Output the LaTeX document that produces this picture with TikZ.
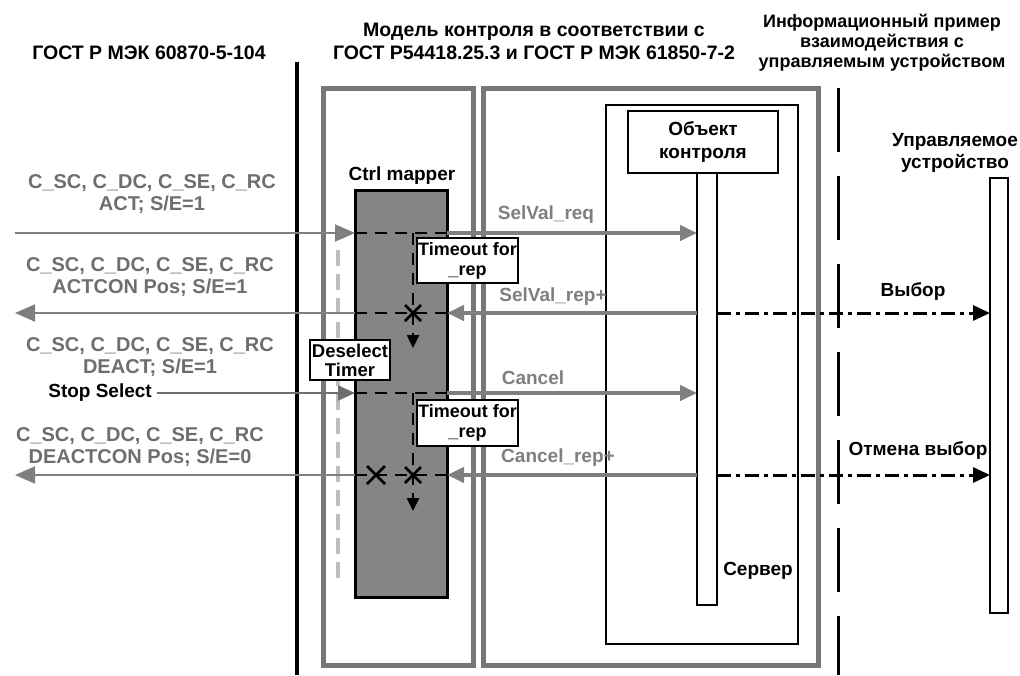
\documentclass[tikz,border=0pt]{standalone}
\usepackage{fontspec}
\setmainfont{Liberation Sans}
\usetikzlibrary{arrows.meta,calc}
\definecolor{garrow}{HTML}{7F7F7F}
\definecolor{gbox}{HTML}{777777}
\definecolor{gtext}{HTML}{6E6E6E}
\definecolor{gfill}{HTML}{858585}
\definecolor{gfaint}{HTML}{BDBDBD}
\begin{document}
\begin{tikzpicture}[x=1pt,y=-1pt,
  title/.style={font=\bfseries\fontsize{19.5}{23}\selectfont, align=center, inner sep=0pt},
  rtitle/.style={font=\bfseries\fontsize{18}{20}\selectfont, align=center, inner sep=0pt},
  glabel/.style={font=\bfseries\fontsize{20}{21.5}\selectfont, text=gtext, align=center, inner sep=0pt},
  alabel/.style={font=\bfseries\fontsize{19}{21}\selectfont, text=garrow, inner sep=0pt},
  blabel/.style={font=\bfseries\fontsize{19}{22}\selectfont, align=center, inner sep=0pt},
  frame/.style={draw=gbox, line width=5pt, inner sep=0pt, outer sep=0pt},
  plainbox/.style={draw=black, line width=1.5pt, fill=white, inner sep=0pt, outer sep=0pt},
  tbox/.style={draw=black, line width=1.5pt, fill=white, inner sep=0pt, outer sep=0pt, align=center, font=\bfseries\fontsize{18}{20}\selectfont},
  garr/.style={draw=garrow, line width=4pt, -{Triangle[length=17pt,width=15pt]}},
  garrl/.style={draw=garrow, line width=2pt, -{Triangle[length=20pt,width=17pt]}},
  bdash/.style={draw=black, line width=2.5pt, dash pattern=on 12pt off 8pt},
  bdashv/.style={draw=black, line width=2.5pt, dash pattern=on 12pt off 8pt, -{Triangle[length=13pt,width=12pt]}},
  ddarr/.style={draw=black, line width=3pt, dash pattern=on 14pt off 5pt on 4pt off 5pt, -{Triangle[length=17pt,width=15pt]}},
  xmark/.style={draw=black, line width=2.5pt}
]
\useasboundingbox (0,0) rectangle (1020,675);

% titles
\node[title] (t1) at (149,53) {ГОСТ Р МЭК 60870-5-104};
\node[title] (t2) at (534,41) {Модель контроля в соответствии с\\ГОСТ Р54418.25.3 и ГОСТ Р МЭК 61850-7-2};
\node[rtitle] (t3) at (882,43) {Информационный пример\\взаимодействия с\\управляемым устройством};

% thick separator and dashed separator
\coordinate (sepTop) at (297,62);
\coordinate (sepBot) at (297,675);
\draw[line width=4.5pt] (sepTop) -- (sepBot);
\coordinate (dsepTop) at (838,88);
\coordinate (dsepBot) at (838,675);
\draw[line width=3pt, dash pattern=on 64pt off 24pt] (dsepTop) -- (dsepBot);

% frames
\node[frame, minimum width=150, minimum height=577] (ctrlframe) at (398,376.5) {};
\node[frame, minimum width=335, minimum height=577] (modelframe) at (650.5,376.5) {};
\node[plainbox, minimum width=192, minimum height=539] (server) at (702,374.5) {};
\node[tbox, font=\bfseries\fontsize{19}{24}\selectfont, minimum width=150, minimum height=62] (obj) at (703,142) {Объект\\контроля};
\node[plainbox, minimum width=20, minimum height=432] (objlife) at (707,389) {};
\node[plainbox, minimum width=18, minimum height=435] (devlife) at (999,395.5) {};

% faint dashed line in ctrl frame
\coordinate (fdTop) at (338,250);
\coordinate (fdBot) at (338,585);
\draw[draw=gfaint, line width=4pt, dash pattern=on 16pt off 8pt] (fdTop) -- (fdBot);

% mapper
\node[draw=black, line width=3pt, fill=gfill, minimum width=92, minimum height=407, inner sep=0pt, outer sep=0pt] (mapper) at (401,393.5) {};
\node[blabel] (maplbl) at (402,176) {Ctrl mapper};
\node[blabel] (srvlbl) at (758,571) {Сервер};
\node[blabel] (devlbl) at (955,153) {Управляемое\\устройство};

% coordinates
\coordinate (L1) at (15,233);   \coordinate (M1w) at (355,233); \coordinate (M1e) at (447,233); \coordinate (O1) at (697,233);
\coordinate (L2) at (15,313);   \coordinate (M2w) at (355,313); \coordinate (M2e) at (447,313); \coordinate (O2) at (697,313);
\coordinate (S3) at (157,393);  \coordinate (M3w) at (355,393); \coordinate (M3e) at (447,393); \coordinate (O3) at (697,393);
\coordinate (L4) at (15,475);   \coordinate (M4w) at (355,475); \coordinate (M4e) at (447,475); \coordinate (O4) at (697,475);
\coordinate (R2) at (717,313);  \coordinate (D2) at (990,313);
\coordinate (R4) at (717,475);  \coordinate (D4) at (990,475);

% row 1: ACT / SelVal_req
\draw[garrl] (L1) -- (M1w);
\draw[bdash] (M1w) -- (M1e);
\draw[garr] (M1e) -- (O1);
\node[alabel] (l1a) at (546,215) {SelVal\_req};
\node[glabel] (l1) at (152,194) {C\_SC, C\_DC, C\_SE, C\_RC\\ACT; S/E=1};

% row 2: ACTCON / SelVal_rep+
\draw[garr] (O2) -- (M2e);
\draw[bdash] (M2e) -- (M2w);
\draw[garrl] (M2w) -- (L2);
\node[alabel] (l2a) at (553,297) {SelVal\_rep+};
\node[glabel] (l2) at (150,277) {C\_SC, C\_DC, C\_SE, C\_RC\\ACTCON Pos; S/E=1};

% timeout 1
\coordinate (T1a) at (413,233); \coordinate (T1b) at (413,348);
\draw[bdashv] (T1a) -- (T1b);
\node[tbox, minimum width=101, minimum height=45] (to1) at (467.5,260.5) {Timeout for\\\_rep};
\coordinate (X1) at (413,313);
\draw[xmark] ($(X1)+(-8,-8)$) -- ($(X1)+(8,8)$) ($(X1)+(-8,8)$) -- ($(X1)+(8,-8)$);

% row 3: DEACT / Cancel
\draw[draw=gtext, line width=2pt, -{Triangle[length=17pt,width=15pt]}] (S3) -- (M3w);
\draw[bdash] (M3w) -- (M3e);
\draw[garr] (M3e) -- (O3);
\node[alabel] (l3a) at (533,378) {Cancel};
\node[glabel] (l3) at (150,357) {C\_SC, C\_DC, C\_SE, C\_RC\\DEACT; S/E=1};
\node[blabel, anchor=east] (stop) at (152,393) {Stop Select};
\node[tbox, font=\bfseries\fontsize{18.5}{19}\selectfont, minimum width=80, minimum height=40] (desel) at (350,360) {Deselect\\Timer};

% timeout 2
\coordinate (T2a) at (413,393); \coordinate (T2b) at (413,511);
\draw[bdashv] (T2a) -- (T2b);
\node[tbox, minimum width=101, minimum height=46] (to2) at (467.5,423) {Timeout for\\\_rep};

% row 4: DEACTCON / Cancel_rep+
\draw[garr] (O4) -- (M4e);
\draw[bdash] (M4e) -- (M4w);
\draw[garrl] (M4w) -- (L4);
\node[alabel] (l4a) at (558,458) {Cancel\_rep+};
\node[glabel] (l4) at (140,447) {C\_SC, C\_DC, C\_SE, C\_RC\\DEACTCON Pos; S/E=0};
\coordinate (X2) at (413,475);
\coordinate (X3) at (376,475);
\draw[xmark] ($(X2)+(-8,-8)$) -- ($(X2)+(8,8)$) ($(X2)+(-8,8)$) -- ($(X2)+(8,-8)$);
\draw[xmark] ($(X3)+(-9,-9)$) -- ($(X3)+(9,9)$) ($(X3)+(-9,9)$) -- ($(X3)+(9,-9)$);

% device interactions
\draw[ddarr] (R2) -- (D2);
\node[blabel] (sel) at (913,291) {Выбор};
\draw[ddarr] (R4) -- (D4);
\node[blabel] (unsel) at (918,450) {Отмена выбор};
\end{tikzpicture}
\end{document}
